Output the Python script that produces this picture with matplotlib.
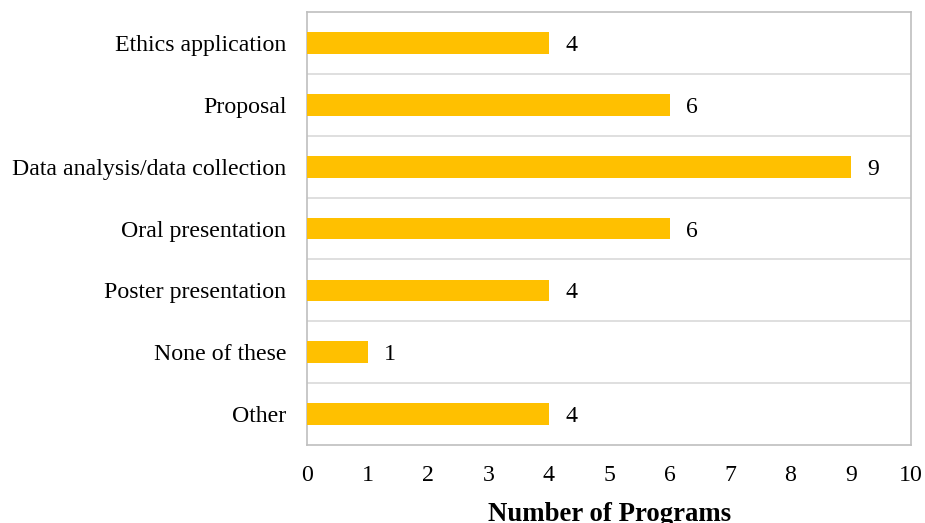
import matplotlib.pyplot as plt

categories = ['Ethics application', 'Proposal', 'Data analysis/data collection',
              'Oral presentation', 'Poster presentation', 'None of these', 'Other']
programs = [4, 6, 9, 6, 4, 1, 4]

plt.rcParams['font.family'] = ['Liberation Serif', 'DejaVu Serif']

fig = plt.figure(figsize=(9.25, 5.23), dpi=100)
ax = fig.add_axes([0.332, 0.149, 0.653, 0.828])

y = list(range(len(categories)))
ax.barh(y, programs, height=0.35, color='#FFC000', zorder=3)
for yi, v in zip(y, programs):
    ax.annotate(str(v), (v, yi), xytext=(12, 0), textcoords='offset points',
                va='center_baseline', ha='left', fontsize=17.2)

ax.set_xlim(0, 10)
ax.set_ylim(len(categories) - 0.5, -0.5)
ax.set_xticks(range(0, 11))
ax.set_yticks(y)
ax.set_yticklabels(categories, fontsize=17.2)
ax.tick_params(axis='x', length=0, pad=14, labelsize=17.2)
ax.tick_params(axis='y', length=0, pad=15)

# horizontal separators between categories
ax.set_yticks([i + 0.5 for i in range(len(categories) - 1)], minor=True)
ax.tick_params(axis='y', which='minor', length=0)
ax.grid(axis='y', which='minor', color='#D9D9D9', linewidth=1.2, zorder=0)

for s in ax.spines.values():
    s.set_color('#BFBFBF')
    s.set_linewidth(1.2)

ax.set_xlabel('Number of Programs', fontsize=19.3, fontweight='bold', labelpad=12)

fig.savefig('out.png', dpi=100)
